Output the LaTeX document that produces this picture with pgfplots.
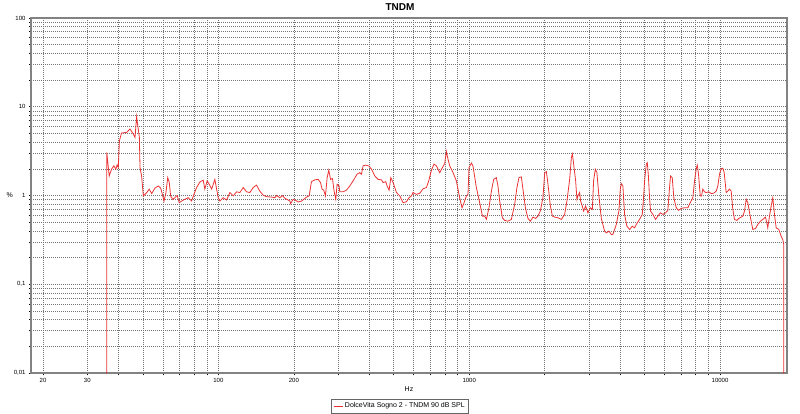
\documentclass[border=0pt]{standalone}
\usepackage{fontspec}
\setmainfont{Liberation Sans}
\usepackage{pgfplots}
\pgfplotsset{compat=1.18}
\definecolor{curve}{RGB}{235,50,50}
\definecolor{framegray}{RGB}{130,130,130}
\begin{document}
\begin{tikzpicture}
\useasboundingbox (0,0) rectangle (800pt,413pt);
\begin{axis}[
  at={(31pt,40pt)}, anchor=south west,
  scale only axis, width=756pt, height=355pt,
  xmode=log, ymode=log,
  xmin=17.9, xmax=18500, ymin=0.01, ymax=100,
  xtick={20,30,100,200,1000,10000},
  xticklabels={20,30,100,200,1000,10000},
  minor xtick={40,50,60,70,80,90,300,400,500,600,700,800,900,2000,3000,4000,5000,6000,7000,8000,9000},
  ytick={0.01,0.1,1,10,100},
  yticklabels={{0,01},{0,1},1,10,100},
  minor ytick={0.02,0.03,0.04,0.05,0.06,0.07,0.08,0.09,0.2,0.3,0.4,0.5,0.6,0.7,0.8,0.9,2,3,4,5,6,7,8,9,20,30,40,50,60,70,80,90},
  grid=both,
  major grid style={dash pattern=on 1pt off 1pt, black!55, line width=0.5pt},
  minor grid style={dash pattern=on 1pt off 1pt, black!55, line width=0.5pt},
  axis line style={framegray, line width=1.5pt},
  tick align=outside, tick pos=left,
  major tick length=2pt, minor tick length=2pt,
  tick style={black, line width=0.5pt},
  tick label style={font=\fontsize{6}{7}\selectfont},
  xlabel={Hz},
  xlabel style={font=\fontsize{7}{8}\selectfont, at={(axis description cs:0.5,0)}, anchor=center, yshift=-16pt},
  ylabel={\%},
  ylabel style={font=\fontsize{7}{8}\selectfont, rotate=-90, at={(axis description cs:-0.028,0.5)}, anchor=center},
  legend style={at={(axis description cs:0.488,-0.093)}, anchor=center, draw=black!60, fill=white,
    font=\fontsize{7}{8}\selectfont, inner sep=1.5pt, row sep=0pt},
  legend image code/.code={\draw[#1] (0pt,0pt) -- (9pt,0pt);},
]
\addplot[curve, line width=0.8pt, mark=none] coordinates {
(35.9,0.001) (35.9,3.05) (36.7,1.66) (37.5,1.98) (38.3,2.16) (39.0,1.98) (39.5,2.22) (39.9,2.06)
(40.3,4.14) (41.1,5.06) (43.1,5.14) (44.4,5.62) (45.8,4.93) (46.5,4.51) (47.2,7.74) (47.6,6.40)
(48.4,4.51) (48.7,2.06) (49.4,1.66) (50.2,0.99) (51.8,1.08) (53.0,1.18) (54.2,1.05) (55.8,1.21)
(57.6,1.28) (58.9,1.21) (60.0,0.99) (60.7,0.867) (61.8,1.08) (62.8,1.59) (63.7,1.40) (64.5,0.99)
(65.7,0.906) (67.1,0.944) (68.5,1.0) (69.8,0.829) (71.4,0.867) (73.5,0.906) (75.8,0.944) (78.2,0.867)
(79.9,1.03) (81.9,1.23) (84.4,1.42) (87.0,1.49) (88.3,1.18) (90.2,1.46) (91.9,1.34) (94.0,1.18)
(96.8,1.52) (99.8,0.944) (101.4,0.867) (104.5,0.944) (107.8,0.889) (111.1,1.08) (114.6,0.99) (118.2,1.10)
(121.8,1.08) (125.6,1.23) (129.6,1.10) (133.5,1.08) (137.6,1.23) (141.9,1.31) (146.3,1.12) (150.8,1.01)
(155.6,0.97) (162.9,0.96) (167.9,0.944) (170.6,1.0) (175.8,0.944) (180.3,1.0) (184.1,0.93) (192.8,0.867)
(194,0.807) (198.6,0.906) (203.6,0.88) (208,0.844) (214.6,0.867) (219,0.906) (224.6,0.96) (230,0.99)
(235,1.43) (242.4,1.50) (249.8,1.52) (255.3,1.40) (259,1.18) (263,1.15) (267.3,0.99) (271.4,1.59)
(275.5,1.93) (280,1.52) (285,1.55) (289.3,1.12) (293.8,0.906) (297.4,1.34) (302.9,1.28) (304.8,1.10)
(314,1.10) (324.2,1.15) (334,1.28) (344.4,1.46) (357.3,1.74) (366.2,1.81) (372,1.74) (377.6,2.16)
(387,2.20) (398.9,2.14) (407.8,1.98) (420.3,1.66) (433.3,1.52) (446.8,1.50) (453.6,1.40) (465,1.43)
(470.5,1.28) (479.4,1.15) (486.9,1.59) (497.3,1.40) (512.9,1.08) (528.7,0.99) (545,0.829) (562.2,0.851)
(575.5,0.944) (588.5,0.99) (597,1.08) (616,1.03) (635,1.06) (654.6,1.19) (675.3,1.23) (689.6,1.46)
(707,1.93) (724,2.26) (740,2.16) (751,1.98) (763,1.81) (781.7,2.06) (798.6,2.29) (811,3.13)
(823,2.57) (836,2.16) (862,1.81) (889,1.46) (916,0.944) (936,0.728) (950.6,0.807) (974.5,0.99)
(989,1.03) (998,2.06) (1020,2.32) (1035,2.16) (1068,1.23) (1101,0.829)
(1108,0.76) (1129,0.586) (1153,0.586) (1171,0.538) (1199,0.728) (1226,1.12) (1252,1.52) (1283,1.59)
(1302,1.28) (1323,0.867) (1356,0.561) (1385,0.524) (1428,0.514) (1473,0.538) (1518,0.795) (1550,1.23)
(1579,1.59) (1614,1.62) (1638,1.18) (1675,0.728) (1715,0.552) (1753,0.514) (1796,0.571) (1841,0.552)
(1879,0.586) (1921,0.667) (1968,0.944) (2000,1.81) (2031,1.86) (2061,1.34) (2107,0.76) (2146,0.586)
(2191,0.571) (2259,0.561) (2330,0.538) (2402,0.612) (2453,0.867) (2515,1.52) (2555,2.68) (2578,2.93)
(2609,2.26) (2657,1.46) (2689,0.906) (2714,0.99) (2756,1.08) (2781,0.867) (2825,0.76) (2859,0.667)
(2911,0.76) (2974,0.638) (3040,0.728) (3097,0.698) (3133,1.46) (3183,1.98) (3230,1.81) (3289,0.99)
(3363,0.552) (3466,0.396) (3521,0.379) (3606,0.396) (3686,0.364) (3741,0.364) (3799,0.414) (3859,0.472)
(3952,0.667) (4003,1.18) (4040,1.36) (4100,1.28) (4164,0.612) (4253,0.451) (4360,0.414) (4469,0.451)
(4564,0.432) (4636,0.472) (4778,0.538) (4898,0.612) (4957,0.944) (5003,1.46) (5082,2.26) (5129,2.35)
(5176,1.74) (5238,0.944) (5286,0.667) (5400,0.612) (5534,0.538) (5653,0.586) (5779,0.638) (5918,0.612)
(6066,0.638) (6194,0.68) (6292,1.23) (6350,1.66) (6450,1.59) (6546,0.944) (6691,0.728) (6834,0.68)
(7006,0.716) (7222,0.728) (7443,0.728) (7609,0.829) (7792,0.944) (7915,1.46) (8039,1.98) (8114,2.20)
(8210,1.74) (8340,0.99) (8440,0.99) (8541,1.18) (8675,1.10) (8810,1.08) (9023,1.10) (9223,1.05)
(9420,1.06) (9658,1.12) (9800,1.28) (9954,1.74) (10111,2.01) (10260,2.03) (10392,1.81) (10585,1.08)
(10742,1.12) (10910,1.18) (11080,1.12) (11246,0.698) (11424,0.538) (11668,0.524) (11883,0.552) (12148,0.571)
(12326,0.586) (12520,0.667) (12718,0.906) (12907,0.829) (13193,0.586) (13512,0.414) (13850,0.425) (14145,0.472)
(14501,0.514) (14809,0.538) (15182,0.571) (15365,0.492) (15504,0.432) (15749,0.586) (15996,0.76) (16233,0.944)
(16487,0.612) (16748,0.432) (17154,0.414) (17533,0.348) (17794,0.319) (17958,0.28) (17960,0.001)
};
\addlegendentry{DolceVita Sogno 2 - TNDM 90 dB SPL}
\end{axis}
\node[font=\bfseries\fontsize{10}{12}\selectfont, anchor=center] at (400pt,406pt) {TNDM};
\end{tikzpicture}
\end{document}
